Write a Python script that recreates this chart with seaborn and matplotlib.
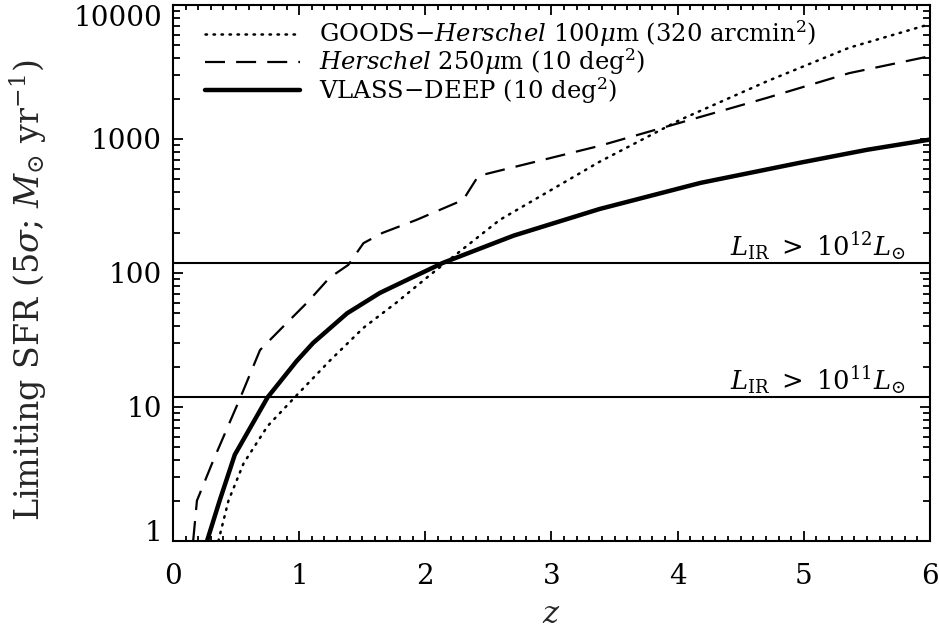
import numpy as np
import pandas as pd
import matplotlib
matplotlib.use('Agg')
import matplotlib.pyplot as plt
from matplotlib.ticker import MultipleLocator, LogLocator, FixedLocator, FixedFormatter, NullFormatter
import seaborn as sns

# values
z_vlass = [0.27, 0.37, 0.49, 0.75, 0.98, 1.11, 1.38, 1.64, 1.90, 2.14, 2.70, 3.38, 4.18, 4.97, 5.50, 6.00]
sfr_vlass = [1.0, 2.0, 4.4, 11.8, 22, 30, 50, 71, 93, 119, 190, 300, 470, 665, 830, 990]

z_goods = [0.36, 0.44, 0.56, 0.75, 0.99, 1.24, 1.51, 1.77, 2.04, 2.59, 3.38, 4.02, 4.71, 5.36, 6.00]
sfr_goods = [1.0, 2.0, 3.8, 7.2, 12.5, 22, 39, 60, 97, 249, 675, 1390, 2700, 4800, 7200]

z_h250 = [0.16, 0.19, 0.32, 0.53, 0.69, 0.87, 1.07, 1.24, 1.39, 1.51, 1.66, 1.93, 2.30, 2.42,
          3.38, 4.10, 4.71, 5.36, 6.00]
sfr_h250 = [1.0, 2.0, 4.0, 11.5, 26.6, 39.5, 61, 92, 115, 167, 199, 249, 351, 530,
            888, 1390, 2030, 3100, 4150]

lir_sfr = [11.8, 118]
lir_labels = [r'$L_{\rm IR}\ >\ 10^{11}L_{\odot}$', r'$L_{\rm IR}\ >\ 10^{12}L_{\odot}$']

ytick_vals = [1, 10, 100, 1000, 10000]
ytick_labels = ['1', '10', '100', '1000', '10000']

sns.set_theme(style='ticks')
plt.rcParams['font.family'] = ['DejaVu Serif']
plt.rcParams['mathtext.fontset'] = 'dejavuserif'

fig = plt.figure(figsize=(9.39, 6.30), dpi=100)
ax = fig.add_axes([0.1842, 0.1413, 0.8062, 0.8508])

goods = pd.DataFrame({'z': z_goods, 'sfr': sfr_goods})
h250 = pd.DataFrame({'z': z_h250, 'sfr': sfr_h250})
vlass = pd.DataFrame({'z': z_vlass, 'sfr': sfr_vlass})

sns.lineplot(data=goods, x='z', y='sfr', ax=ax, color='black', lw=1.8,
             linestyle=(0, (0.6, 2.6)), dash_capstyle='round', estimator=None, sort=False,
             label=r'GOODS$-$$\mathit{Herschel}$ 100$\mu$m (320 arcmin$^{2}$)')
sns.lineplot(data=h250, x='z', y='sfr', ax=ax, color='black', lw=1.6,
             linestyle=(0, (9, 5)), estimator=None, sort=False,
             label=r'$\mathit{Herschel}$ 250$\mu$m (10 deg$^{2}$)')
sns.lineplot(data=vlass, x='z', y='sfr', ax=ax, color='black', lw=3.2,
             estimator=None, sort=False, label=r'VLASS$-$DEEP (10 deg$^{2}$)')

for val, lab in zip(lir_sfr, lir_labels):
    ax.axhline(val, color='black', lw=1.5)
    ax.text(0.967, val * 1.02, lab, transform=ax.get_yaxis_transform(),
            ha='right', va='bottom', fontsize=18.5, color='black')

ax.set_yscale('log')
ax.set_xlim(0, 6)
ax.set_ylim(1, 10000)

ax.xaxis.set_major_locator(MultipleLocator(1))
ax.xaxis.set_minor_locator(MultipleLocator(0.1))
ax.yaxis.set_major_locator(FixedLocator(ytick_vals))
ax.yaxis.set_major_formatter(FixedFormatter(ytick_labels))
ax.yaxis.set_minor_locator(LogLocator(base=10, subs=np.arange(2, 10)))
ax.yaxis.set_minor_formatter(NullFormatter())

ax.tick_params(which='both', direction='in', top=True, right=True, colors='black',
               labelsize=20, width=1.3)
ax.tick_params(which='major', length=7)
ax.tick_params(axis='x', which='major', pad=16)
ax.tick_params(axis='y', which='major', pad=8)
ax.tick_params(axis='x', which='minor', length=3.5)
ax.tick_params(axis='y', which='minor', length=5)
for s in ax.spines.values():
    s.set_linewidth(1.5)
    s.set_color('black')

ax.set_xlabel(r'$z$', fontsize=22, labelpad=6)
ax.set_ylabel(r'Limiting SFR (5$\sigma$; $M_{\odot}$ yr$^{-1}$)', fontsize=24)
ax.yaxis.set_label_coords(-0.164, 0.468)

leg = ax.legend(loc='upper left', bbox_to_anchor=(0.042, 0.975), frameon=False, fontsize=17.5,
                handlelength=3.9, handletextpad=0.8, labelspacing=-0.1, borderpad=0,
                borderaxespad=0)
for t in leg.get_texts():
    t.set_color('black')

# keep the end labels inside the frame, as in the original
fig.canvas.draw()
yticks = ax.yaxis.get_major_ticks()
yticks[0].label1.set_verticalalignment('baseline')
yticks[-1].label1.set_verticalalignment('top')

fig.savefig('out.png', dpi=100)
